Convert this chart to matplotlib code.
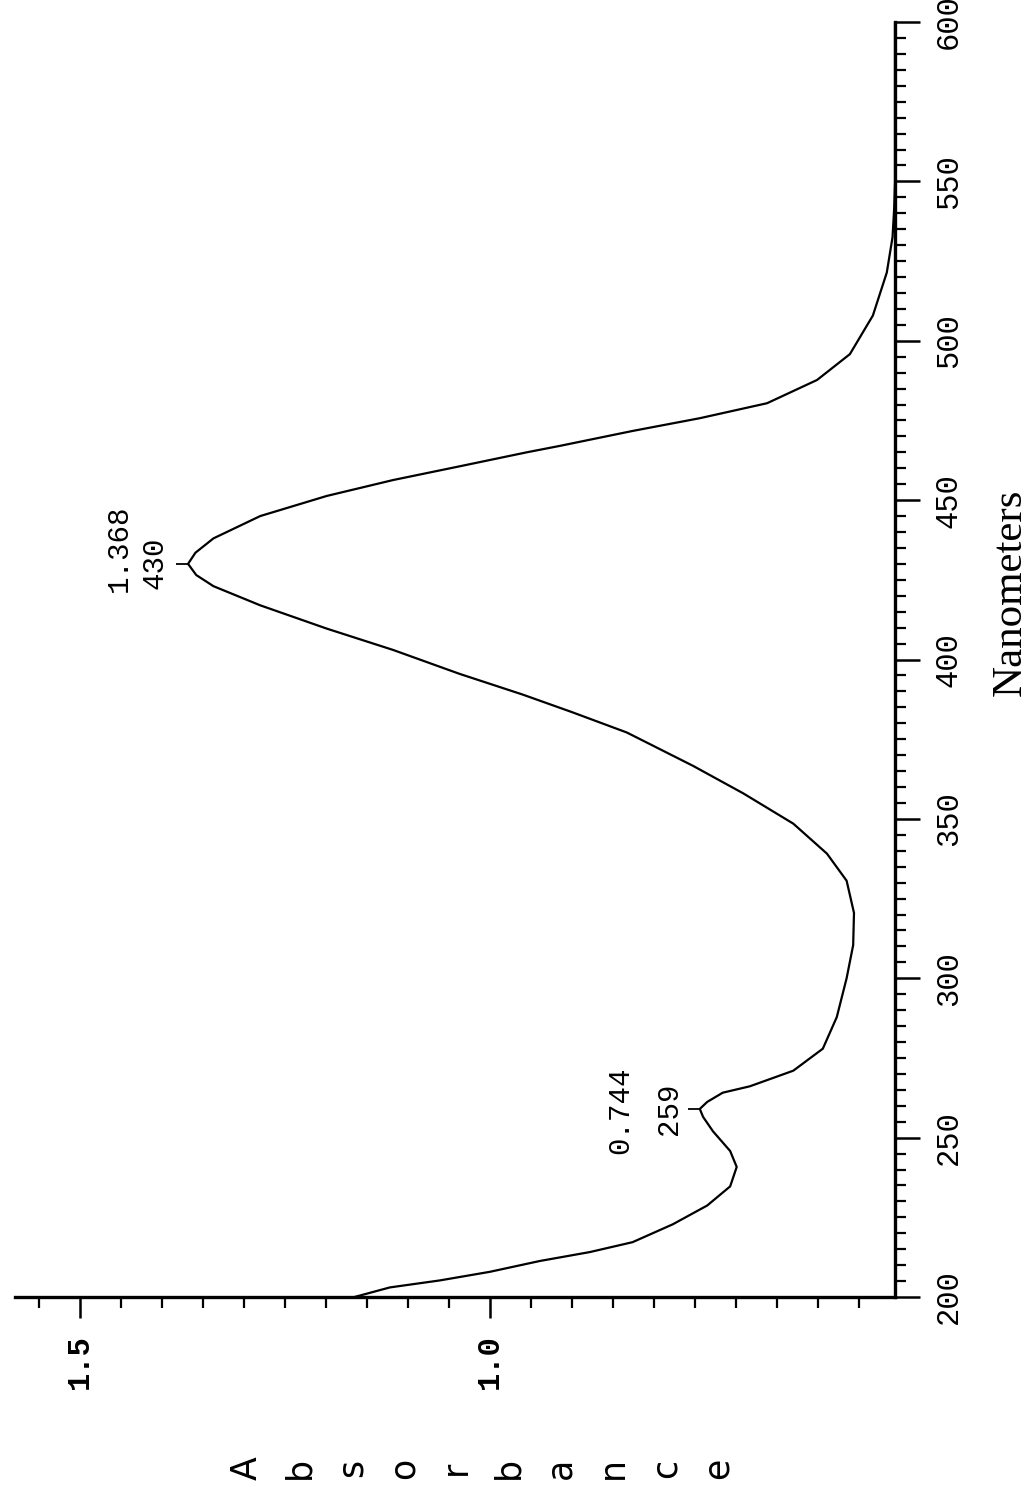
import numpy as np
import matplotlib
matplotlib.use("Agg")
import matplotlib.pyplot as plt
from matplotlib.ticker import MultipleLocator, FixedLocator

# ---- data ----
wavelength_nm = [200.0, 203.0, 205.2, 207.9, 211.3, 214.1, 217.2, 222.8, 228.7, 234.7,
                 240.8, 245.8, 252.0, 256.5, 259.0, 261.2, 264.1, 266.1, 271.0, 277.9,
                 287.8, 300.0, 310.4, 320.5, 330.6, 339.1, 348.5, 358.0, 366.6, 377.1,
                 383.5, 389.0, 395.5, 403.0, 409.7, 417.0, 423.0, 426.5, 430.0, 433.5,
                 438.0, 445.0, 451.3, 456.3, 460.6, 465.0, 467.0, 471.7, 475.7, 480.4,
                 487.7, 495.8, 507.9, 521.4, 532.5, 541.6, 550.0, 575.0, 600.0]
absorbance = [1.165, 1.122, 1.061, 1.000, 0.939, 0.878, 0.826, 0.777, 0.735, 0.707,
              0.699, 0.707, 0.728, 0.740, 0.744, 0.735, 0.716, 0.683, 0.630, 0.594,
              0.577, 0.565, 0.557, 0.556, 0.565, 0.589, 0.630, 0.691, 0.752, 0.833,
              0.900, 0.960, 1.037, 1.118, 1.199, 1.280, 1.337, 1.358, 1.368, 1.359,
              1.337, 1.280, 1.199, 1.118, 1.037, 0.955, 0.915, 0.826, 0.744, 0.662,
              0.601, 0.561, 0.533, 0.516, 0.509, 0.507, 0.506, 0.506, 0.506]

peak_nm = [430, 259]
peak_abs = [1.368, 0.744]
peak_abs_labels = ["1.368", "0.744"]
peak_nm_labels = ["430", "259"]

nm_ticks = [200, 250, 300, 350, 400, 450, 500, 550, 600]
abs_ticks = [1.0, 1.5]
abs_tick_labels = ["1.0", "1.5"]
y_title = "Absorbance"
x_title = "Nanometers"

# ---- figure (chart drawn rotated: wavelength runs upward, absorbance grows to the left) ----
W, H = 1034, 1487
fig = plt.figure(figsize=(W / 100, H / 100), dpi=100)
fig.patch.set_facecolor("white")
ax = fig.add_axes([15 / W, 1 - 1297 / H, 880 / W, 1275 / H])

ax.plot(absorbance, wavelength_nm, color="black", lw=1.6, solid_capstyle="round",
        solid_joinstyle="round")
ax.plot(peak_abs, peak_nm, linestyle="none", marker=0, ms=9, mew=1.3, color="black")

ax.set_xlim(1.579, 0.506)
ax.set_ylim(200, 600)

for s in ["top", "left"]:
    ax.spines[s].set_visible(False)
for s in ["bottom", "right"]:
    ax.spines[s].set_linewidth(2.4)

mono = "Liberation Mono"

ax.yaxis.tick_right()
ax.yaxis.set_major_locator(FixedLocator(nm_ticks))
ax.yaxis.set_minor_locator(MultipleLocator(5))
ax.set_yticklabels([str(v) for v in nm_ticks], rotation=90, family=mono,
                   fontsize=22, ha="left", va="center")
ax.tick_params(axis="y", which="major", direction="out", length=18, width=1.8, pad=10)
ax.tick_params(axis="y", which="minor", direction="out", length=8, width=1.6)

ax.xaxis.set_major_locator(FixedLocator(abs_ticks))
ax.xaxis.set_minor_locator(MultipleLocator(0.05))
ax.set_xticklabels(abs_tick_labels, rotation=90, family=mono, fontsize=22,
                   fontweight="bold", ha="center", va="top")
ax.tick_params(axis="x", which="major", direction="out", length=15, width=1.8, pad=12)
ax.tick_params(axis="x", which="minor", direction="out", length=8, width=1.6)

# peak annotations
offsets_nm = [(-24, 1), (-22, 0)]
offsets_abs = [(-50, 11), (-57, -1)]
for a, n, la, ln, on, oa in zip(peak_abs, peak_nm, peak_abs_labels, peak_nm_labels,
                                offsets_nm, offsets_abs):
    ax.annotate(ln, xy=(a, n), xytext=on, textcoords="offset points", rotation=90,
                ha="center", va="center", family=mono, fontsize=21)
    ax.annotate(la, xy=(a, n), xytext=oa, textcoords="offset points", rotation=90,
                ha="center", va="center", family=mono, fontsize=21)

# wavelength axis title
fig.text(1010 / W, 1 - 592 / H, x_title, family="Liberation Serif", fontsize=31,
         rotation=90, ha="center", va="center")

# absorbance title: stacked letters (rotated with the chart)
x0, dx, yc = 247, 52.3, 1468
for i, ch in enumerate(y_title):
    fig.text((x0 + dx * i) / W, 1 - yc / H, ch, rotation=90, ha="center", va="center",
             family="DejaVu Sans", fontsize=25)

fig.savefig("out.png", dpi=100, facecolor="white")
